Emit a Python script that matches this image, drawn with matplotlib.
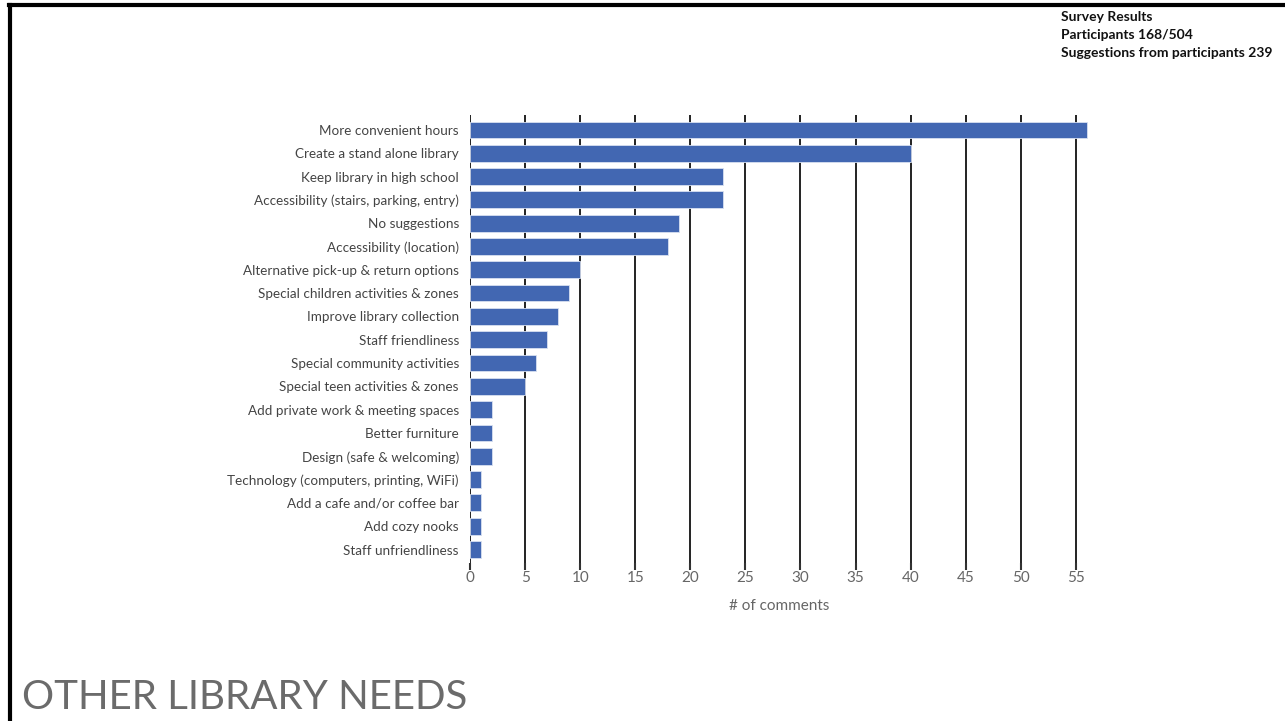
import matplotlib.pyplot as plt
from matplotlib.lines import Line2D

categories = [
    "More convenient hours",
    "Create a stand alone library",
    "Keep library in high school",
    "Accessibility (stairs, parking, entry)",
    "No suggestions",
    "Accessibility (location)",
    "Alternative pick-up & return options",
    "Special children activities & zones",
    "Improve library collection",
    "Staff friendliness",
    "Special community activities",
    "Special teen activities & zones",
    "Add private work & meeting spaces",
    "Better furniture",
    "Design (safe & welcoming)",
    "Technology (computers, printing, WiFi)",
    "Add a cafe and/or coffee bar",
    "Add cozy nooks",
    "Staff unfriendliness",
]
comments = [56, 40, 23, 23, 19, 18, 10, 9, 8, 7, 6, 5, 2, 2, 2, 1, 1, 1, 1]
x_ticks = list(range(0, 60, 5))

header_lines = ["Survey Results", "Participants 168/504", "Suggestions from participants 239"]
slide_title = "OTHER LIBRARY NEEDS"

plt.rcParams['font.family'] = ['Lato', 'DejaVu Sans']

fig = plt.figure(figsize=(12.85, 7.21), dpi=100)
ax = fig.add_axes([0.3658, 0.2191, 0.4817, 0.6214])

ypos = list(range(len(categories)))[::-1]
ax.barh(ypos, comments, height=0.72, color='#4267b2', edgecolor='#d8e0f0',
        linewidth=0.6, zorder=3)

ax.set_xlim(0, 56.2)
ax.set_ylim(-0.58, len(categories) - 0.36)
ax.set_xticks(x_ticks)
ax.set_xticklabels([str(t) for t in x_ticks], color='#666666', fontsize=11)
ax.set_yticks(ypos)
ax.set_yticklabels(categories, color='#444444', fontsize=9.7)
ax.tick_params(axis='y', length=0, pad=8)
ax.tick_params(axis='x', length=5, width=1.5, color='#333333', pad=1)
for t in x_ticks:
    ax.axvline(t, color='#222222', linewidth=1.4, zorder=1)
for s in ax.spines.values():
    s.set_visible(False)
ax.set_xlabel("# of comments", color='#666666', fontsize=11, labelpad=10)

# slide border
fig.add_artist(Line2D([0.007, 1.0], [0.9935, 0.9935], color='black', linewidth=3))
fig.add_artist(Line2D([0.0078, 0.0078], [0.0, 0.9935], color='black', linewidth=3))

for i, line in enumerate(header_lines):
    fig.text(0.8255, 0.976 - i * 0.0245, line, fontsize=10, fontweight='bold',
             color='#111111', va='center', ha='left')

fig.text(0.017, 0.007, slide_title, fontsize=29, color='#6b6b6b', ha='left',
         va='bottom')

fig.savefig('out.png', dpi=100)
